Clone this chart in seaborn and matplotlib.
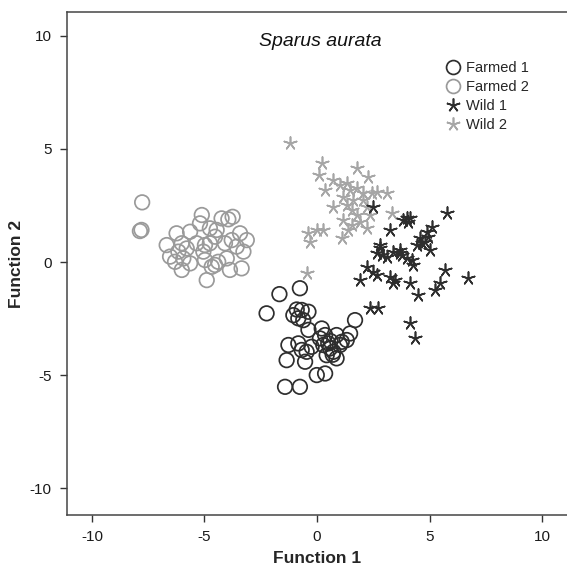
import matplotlib
matplotlib.use("Agg")
import matplotlib.pyplot as plt
import seaborn as sns
import pandas as pd
from matplotlib.lines import Line2D

# ---- data ----
farmed1_x = [-1.67, -0.76, -2.24, -1.05, -0.68, -0.38, -0.83, -0.61, 1.69, -0.38, 0.21, 0.36, 0.13, 0.87,
             1.32, 1.47, -1.27, -0.83, -0.68, -0.46, -0.24, 0.28, 0.58, 0.43, 0.73, 0.87, 1.02, 1.10,
             -1.35, -0.53, -0.01, 0.36, -1.42, -0.76, 0.60, 0.70, 0.50, -0.90]
farmed1_y = [-1.42, -1.16, -2.27, -2.35, -2.12, -2.20, -2.49, -2.57, -2.57, -3.00, -2.94, -3.23, -3.38, -3.23,
             -3.45, -3.16, -3.67, -3.60, -3.89, -3.97, -3.75, -3.67, -3.82, -4.12, -3.97, -4.26, -3.67, -3.53,
             -4.34, -4.41, -5.00, -4.93, -5.52, -5.52, -3.50, -4.10, -3.60, -2.10]

farmed2_x = [-7.77, -7.87, -7.80, -5.12, -4.24, -3.75, -3.94, -5.20, -4.76, -4.46, -4.53, -5.64, -6.24, -6.68,
             -6.01, -5.79, -6.16, -6.53, -5.94, -6.01, -5.05, -4.98, -4.90, -4.68, -4.39, -4.53, -4.01, -3.87,
             -3.35, -3.42, -3.12, -3.27, -3.57, -3.79, -4.09, -4.76, -4.98, -5.35, -6.31, -5.64]
farmed2_y = [2.64, 1.37, 1.42, 2.08, 1.93, 2.00, 1.89, 1.71, 1.49, 1.42, 1.12, 1.34, 1.27, 0.75,
             0.83, 0.60, 0.46, 0.24, 0.16, -0.35, 0.46, 0.09, -0.80, -0.21, 0.01, -0.13, 0.16, -0.35,
             -0.28, 1.27, 0.97, 0.46, 0.68, 0.97, 0.83, 0.83, 0.75, 0.83, 0.01, -0.06]

wild1_x = [5.76, 3.99, 3.84, 4.13, 4.06, 3.24, 2.50, 5.10, 4.87, 4.95, 4.80, 5.02, 4.58, 4.43, 4.65,
           2.80, 2.65, 2.87, 3.10, 3.39, 3.69, 3.76, 3.99, 4.21, 4.28, 2.21, 2.50, 2.65, 1.91, 3.24,
           3.39, 3.47, 4.13, 4.50, 5.24, 5.47, 5.69, 6.72, 2.36, 2.72, 4.13, 4.36, 2.80, 3.69]
wild1_y = [2.15, 1.93, 1.86, 1.96, 1.78, 1.42, 2.45, 1.56, 1.34, 1.12, 0.90, 0.53, 1.05, 0.75, 0.83,
           0.75, 0.38, 0.31, 0.24, 0.46, 0.53, 0.31, 0.16, 0.09, -0.13, -0.21, -0.43, -0.58, -0.80, -0.65,
           -0.94, -0.80, -0.94, -1.46, -1.24, -0.94, -0.35, -0.72, -2.05, -2.05, -2.71, -3.38, 0.60, 0.38]

wild2_x = [-1.20, 0.21, 0.10, 1.76, 2.28, 0.73, 1.02, 1.32, 1.47, 1.76, 2.06, 2.43, 2.65, 3.10, 0.36,
           1.17, 1.61, 2.06, 1.32, 1.54, 0.73, 2.21, 1.76, 2.36, 1.17, 1.54, 1.91, 2.21, 3.32, -0.38,
           -0.01, 0.28, -0.31, 1.10, 1.39, -0.46]
wild2_y = [5.25, 4.37, 3.85, 4.14, 3.78, 3.63, 3.41, 3.48, 3.19, 3.26, 3.04, 3.04, 3.11, 3.04, 3.19,
           2.89, 2.74, 2.74, 2.52, 2.30, 2.45, 2.45, 2.08, 2.08, 1.86, 1.64, 1.78, 1.49, 2.15, 1.27,
           1.42, 1.42, 0.90, 1.05, 1.42, -0.50]

groups = ["Farmed 1", "Farmed 2", "Wild 1", "Wild 2"]
x_ticks = [-10, -5, 0, 5, 10]
y_ticks = [-10, -5, 0, 5, 10]

df = pd.concat([
    pd.DataFrame({"f1": farmed1_x, "f2": farmed1_y, "group": "Farmed 1"}),
    pd.DataFrame({"f1": farmed2_x, "f2": farmed2_y, "group": "Farmed 2"}),
    pd.DataFrame({"f1": wild1_x, "f2": wild1_y, "group": "Wild 1"}),
    pd.DataFrame({"f1": wild2_x, "f2": wild2_y, "group": "Wild 2"}),
], ignore_index=True)

# ---- styling ----
sns.set_style("white")
plt.rcParams["font.family"] = ["Liberation Sans", "DejaVu Sans"]

colors = {"Farmed 1": "#2e2e2e", "Farmed 2": "#9a9a9a", "Wild 1": "#2e2e2e", "Wild 2": "#a6a6a6"}
star = (5, 2, 0)
markers = {"Farmed 1": "o", "Farmed 2": "o", "Wild 1": star, "Wild 2": star}

fig = plt.figure(figsize=(5.67, 5.79), dpi=100)
ax = fig.add_axes([67 / 567, 64 / 579, 500 / 567, (515 - 12) / 579])

for g in ["Farmed 2", "Wild 2", "Wild 1", "Farmed 1"]:
    sub = df[df["group"] == g]
    c = colors[g]
    if markers[g] == "o":
        sns.scatterplot(data=sub, x="f1", y="f2", marker="o", s=110, ax=ax,
                        facecolor="none", edgecolor=c, linewidth=1.25, legend=False)
        coll = ax.collections[-1]
        coll.set_facecolor("none")
        coll.set_edgecolor(c)
    else:
        sns.scatterplot(data=sub, x="f1", y="f2", marker=star, s=85, ax=ax,
                        color=c, linewidth=1.2, legend=False)
        coll = ax.collections[-1]
        coll.set_edgecolor(c)
        coll.set_facecolor(c)

ax.set_xlim(-11.11, 11.11)
ax.set_ylim(-11.19, 11.06)
ax.set_xticks(x_ticks)
ax.set_yticks(y_ticks)
ax.set_xticklabels([str(t) for t in x_ticks])
ax.set_yticklabels([str(t) for t in y_ticks])

for side in ["left", "bottom", "top"]:
    ax.spines[side].set_visible(True)
    ax.spines[side].set_color("#454545")
    ax.spines[side].set_linewidth(1.1)
ax.spines["right"].set_visible(False)

ax.tick_params(axis="both", direction="out", length=5, width=1.0, color="#333333",
               labelsize=11, labelcolor="#1a1a1a", left=True, bottom=True, pad=6)

ax.set_xlabel("Function 1", fontsize=12.5, fontweight="bold", labelpad=5)
ax.set_ylabel("Function 2", fontsize=12.5, fontweight="bold", labelpad=4)

fig.text(320 / 567, 1 - 41 / 579, "Sparus aurata", style="italic", fontsize=14,
         ha="center", va="center", color="#111111")

handles = []
for g in groups:
    c = colors[g]
    if markers[g] == "o":
        h = Line2D([], [], linestyle="none", marker="o", markersize=10,
                   markerfacecolor="none", markeredgecolor=c, markeredgewidth=1.25, label=g)
    else:
        h = Line2D([], [], linestyle="none", marker=star, markersize=10,
                   color=c, markeredgewidth=1.2, label=g)
    handles.append(h)

fig.legend(handles=handles, loc="upper left", bbox_to_anchor=(446 / 567, 1 - 61 / 579),
           frameon=False, fontsize=10.5, handlelength=0.9, handletextpad=0.45,
           labelspacing=0.35, borderaxespad=0, borderpad=0)

fig.savefig("out.png", dpi=100)
